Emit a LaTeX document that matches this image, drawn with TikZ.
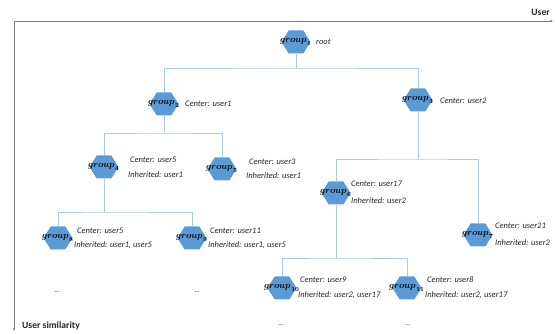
\documentclass[tikz,border=0pt]{standalone}
\usepackage{fontspec}
\setmainfont{Carlito}
\usepackage{unicode-math}
\setmathfont{Latin Modern Math}
\usetikzlibrary{arrows.meta}
\definecolor{hexblue}{HTML}{5B9BD5}
\definecolor{connblue}{HTML}{A9CBE8}
\definecolor{axisgray}{HTML}{808080}
\definecolor{txt}{HTML}{262626}
\tikzset{
  hex/.style={rectangle, minimum width=29pt, minimum height=23pt, inner sep=0pt, draw=none,
    path picture={\fill[hexblue] (path picture bounding box.west)
      -- ([xshift=7.2pt]path picture bounding box.north west)
      -- ([xshift=-7.2pt]path picture bounding box.north east)
      -- (path picture bounding box.east)
      -- ([xshift=-7.2pt]path picture bounding box.south east)
      -- ([xshift=7.2pt]path picture bounding box.south west) -- cycle;}},
  glabel/.style={font=\fontsize{9}{10}\selectfont, text=black, inner sep=0pt},
  info/.style={anchor=west, font=\fontsize{8.5}{10}\selectfont\itshape, text=txt, inner sep=0pt},
  conn/.style={draw=connblue, line width=0.7pt},
  axis/.style={draw=axisgray, line width=0.6pt, -{Stealth[length=3pt,width=2.6pt]}},
  axlabel/.style={font=\fontsize{9.6}{11}\selectfont\bfseries, text=txt, inner sep=0pt},
  dots/.style={font=\fontsize{7}{8}\selectfont, text=txt, inner sep=0pt}
}
\newcommand{\grp}[1]{$\symbfit{group}_{\symbfup{#1}}$}
\begin{document}
\begin{tikzpicture}[x=1pt,y=-1pt]
\useasboundingbox (0,0) rectangle (555,334);
% axes
\coordinate (o) at (14,21);
\coordinate (xe) at (553,21);
\coordinate (ye) at (14,331);
\draw[axis] (o) -- (xe);
\draw[axis] (o) -- (ye);
\node[axlabel, anchor=east] (ux) at (550,12) {User};
\node[axlabel, anchor=west] (uy) at (22,326) {User similarity};
% hexagons
\node[hex, label={[glabel]center:\grp{1}}] (g1) at (296,42) {};
\node[hex, label={[glabel]center:\grp{2}}] (g2) at (164,104) {};
\node[hex, label={[glabel]center:\grp{3}}] (g3) at (418,100) {};
\node[hex, label={[glabel]center:\grp{4}}] (g4) at (104,167) {};
\node[hex, label={[glabel]center:\grp{5}}] (g5) at (222,169) {};
\node[hex, label={[glabel]center:\grp{6}}] (g6) at (336,193) {};
\node[hex, label={[glabel]center:\grp{7}}] (g7) at (478,235) {};
\node[hex, label={[glabel]center:\grp{8}}] (g8) at (58,238) {};
\node[hex, label={[glabel]center:\grp{9}}] (g9) at (192,238) {};
\node[hex, label={[glabel]center:\grp{10}}] (g10) at (282,288) {};
\node[hex, label={[glabel]center:\grp{11}}] (g11) at (407,288) {};
% info texts
\node[info] (t1) at (316,42) {root};
\node[info] (t2) at (185,104) {Center: user1};
\node[info] (t3) at (440,101) {Center: user2};
\node[info] (t4a) at (130,160) {Center: user5};
\node[info] (t4b) at (128,175) {Inherited: user1};
\node[info] (t5a) at (249,162) {Center: user3};
\node[info] (t5b) at (246,176) {Inherited: user1};
\node[info] (t6a) at (351,184) {Center: user17};
\node[info] (t6b) at (351,201) {Inherited: user2};
\node[info] (t7a) at (495,226) {Center: user21};
\node[info] (t7b) at (495,243) {Inherited: user2};
\node[info] (t8a) at (77,231) {Center: user5};
\node[info] (t8b) at (74,245) {Inherited: user1, user5};
\node[info] (t9a) at (210,231) {Center: user11};
\node[info] (t9b) at (208,245) {Inherited: user1, user5};
\node[info] (t10a) at (300,280) {Center: user9};
\node[info] (t10b) at (298,295) {Inherited: user2, user17};
\node[info] (t11a) at (427,280) {Center: user8};
\node[info] (t11b) at (425,295) {Inherited: user2, user17};
% dots
\node[dots] (d1) at (57,292) {...};
\node[dots] (d2) at (197,292) {...};
\node[dots] (d3) at (281,325) {...};
\node[dots] (d4) at (408,325) {...};
% junctions
\coordinate (j1) at (296,68);
\coordinate (j2) at (164,133);
\coordinate (j3) at (418,159);
\coordinate (j4) at (104,212);
\coordinate (j6) at (336,258);
% connectors
\draw[conn] (g1.south) -- (j1);
\draw[conn] (g2.north) |- (j1) -| (g3.north);
\draw[conn] (g2.south) -- (j2);
\draw[conn] (g4.north) |- (j2) -| (g5.north);
\draw[conn] (g3.south) -- (j3);
\draw[conn] (g6.north) |- (j3) -| (g7.north);
\draw[conn] (g4.south) -- (j4);
\draw[conn] (g8.north) |- (j4) -| (g9.north);
\draw[conn] (g6.south) -- (j6);
\draw[conn] (g10.north) |- (j6) -| (g11.north);
\end{tikzpicture}
\end{document}
